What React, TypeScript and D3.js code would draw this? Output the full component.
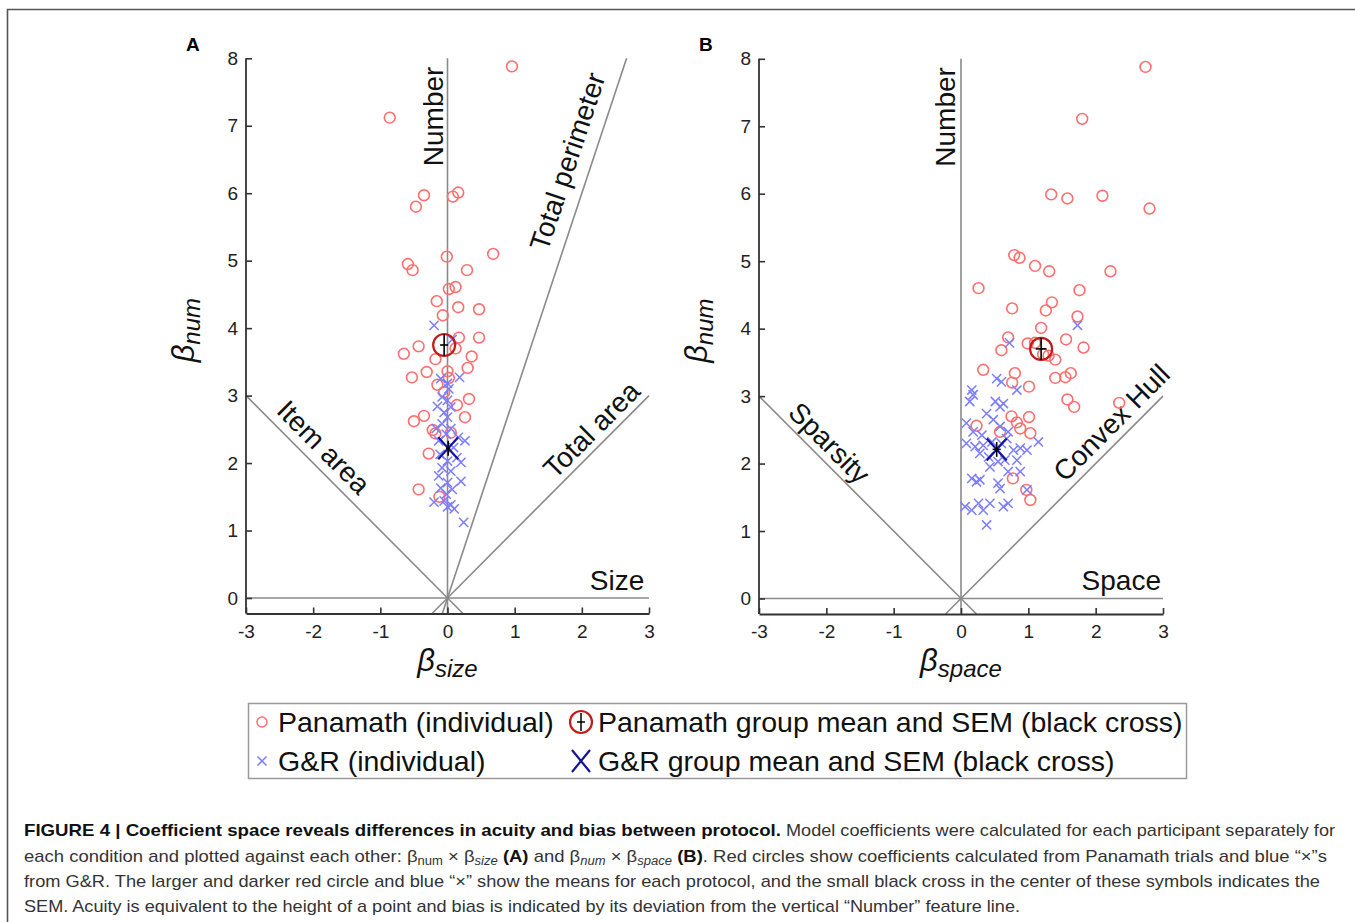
import React, { useEffect, useRef } from 'react';
import * as d3 from 'd3';

// ---------- DATA ----------
const xTicks = [-3, -2, -1, 0, 1, 2, 3];
const yTicks = [0, 1, 2, 3, 4, 5, 6, 7, 8];

// Panel A: beta_size (x) vs beta_num (y)
const panamathA: [number, number][] = [
  [0.96, 7.88], [-0.86, 7.12], [-0.35, 5.97], [-0.47, 5.8], [0.08, 5.95], [0.16, 6.01],
  [-0.01, 5.06], [0.68, 5.1], [-0.59, 4.95], [-0.52, 4.86], [0.29, 4.86], [0.02, 4.58],
  [0.12, 4.61], [-0.16, 4.4], [0.16, 4.31], [0.47, 4.28], [-0.07, 4.19], [-0.43, 3.73],
  [-0.65, 3.62], [0.17, 3.86], [0.47, 3.86], [0.12, 3.7], [-0.18, 3.54], [0.36, 3.58],
  [-0.53, 3.27], [-0.31, 3.35], [0.0, 3.36], [0.3, 3.41], [-0.15, 3.16], [0.02, 3.26],
  [0.32, 2.95], [0.14, 2.86], [0.26, 2.68], [-0.5, 2.62], [-0.35, 2.7], [-0.22, 2.49],
  [-0.18, 2.44], [-0.28, 2.14], [-0.43, 1.61], [-0.12, 1.5], [-0.05, 3.05], [0.05, 2.45],
];
const grA: [number, number][] = [
  [-0.2, 4.04], [0.07, 3.83], [-0.1, 3.25], [0.18, 3.27], [0.0, 3.18], [0.02, 3.1],
  [-0.08, 2.98], [0.0, 2.93], [-0.15, 2.84], [0.05, 2.83], [-0.05, 2.75], [0.0, 2.68],
  [-0.08, 2.58], [-0.17, 2.51], [0.05, 2.51], [-0.02, 2.43], [0.16, 2.38], [0.26, 2.33],
  [-0.13, 2.33], [0.09, 2.23], [-0.11, 2.13], [0.14, 2.08], [0.0, 2.03], [0.2, 2.01],
  [-0.08, 1.93], [0.05, 1.88], [-0.13, 1.81], [0.2, 1.73], [0.0, 1.71], [-0.1, 1.63],
  [0.07, 1.61], [-0.02, 1.54], [-0.2, 1.42], [-0.05, 1.44], [0.05, 1.38], [0.1, 1.32],
  [0.0, 1.35], [0.24, 1.12],
];
const meanPanamathA = [-0.05, 3.75];
const semPanamathA = [0.06, 0.16];
const meanGrA = [0.01, 2.22];
const semGrA = [0.03, 0.11];

// Panel B: beta_space (x) vs beta_num (y)
const panamathB: [number, number][] = [
  [2.74, 7.88], [1.8, 7.11], [1.34, 5.99], [1.58, 5.93], [2.1, 5.97], [2.8, 5.78],
  [0.79, 5.09], [0.87, 5.05], [1.1, 4.93], [1.31, 4.85], [2.22, 4.85], [0.26, 4.6],
  [1.76, 4.57], [1.35, 4.39], [0.76, 4.3], [1.26, 4.27], [1.73, 4.18], [1.19, 4.01],
  [0.7, 3.87], [0.6, 3.68], [0.99, 3.78], [1.1, 3.79], [1.56, 3.84], [1.82, 3.72],
  [1.4, 3.54], [0.33, 3.39], [0.8, 3.34], [1.4, 3.27], [1.55, 3.28], [1.63, 3.34],
  [0.76, 3.2], [1.01, 3.14], [1.58, 2.95], [1.68, 2.84], [2.35, 2.9], [0.75, 2.7],
  [1.01, 2.69], [0.83, 2.61], [0.88, 2.52], [1.03, 2.45], [0.23, 2.56], [0.58, 2.47],
  [0.77, 1.78], [0.97, 1.61], [1.03, 1.46], [1.22, 3.62], [1.3, 3.6],
];
const grB: [number, number][] = [
  [1.73, 4.05], [0.72, 3.79], [0.16, 3.09], [0.18, 3.02], [0.13, 2.92], [0.53, 3.26],
  [0.6, 3.21], [0.83, 3.09], [0.51, 2.92], [0.58, 2.84], [0.63, 2.89], [0.38, 2.74],
  [0.48, 2.65], [0.08, 2.6], [0.18, 2.47], [0.31, 2.42], [0.58, 2.55], [0.7, 2.47],
  [0.08, 2.3], [0.21, 2.25], [0.33, 2.27], [0.46, 2.32], [0.6, 2.3], [0.68, 2.37],
  [0.78, 2.2], [0.88, 2.23], [0.98, 2.2], [1.15, 2.32], [0.28, 2.15], [0.41, 2.1],
  [0.55, 2.03], [0.65, 2.05], [0.83, 2.05], [0.43, 1.95], [0.7, 1.88], [0.88, 1.88],
  [0.16, 1.78], [0.23, 1.73], [0.28, 1.76], [0.55, 1.71], [0.58, 1.63], [0.98, 1.61],
  [0.06, 1.36], [0.16, 1.31], [0.26, 1.41], [0.43, 1.41], [0.33, 1.31], [0.63, 1.36],
  [0.7, 1.41], [0.38, 1.09],
];
const meanPanamathB = [1.19, 3.7];
const semPanamathB = [0.08, 0.16];
const meanGrB = [0.53, 2.21];
const semGrB = [0.06, 0.11];

// Feature directions (in coefficient space)
const featuresA = [
  { name: 'Number', dx: 0, dy: 1 },
  { name: 'Size', dx: 1, dy: 0 },
  { name: 'Total perimeter', dx: 1, dy: 3 },
  { name: 'Total area', dx: 1, dy: 1 },
  { name: 'Item area', dx: -1, dy: 1 },
];
const featuresB = [
  { name: 'Number', dx: 0, dy: 1 },
  { name: 'Space', dx: 1, dy: 0 },
  { name: 'Convex Hull', dx: 1, dy: 1 },
  { name: 'Sparsity', dx: -1, dy: 1 },
];

const legendLabels = [
  'Panamath (individual)',
  'Panamath group mean and SEM (black cross)',
  'G&R (individual)',
  'G&R group mean and SEM (black cross)',
];

// ---------- STYLE ----------
const FONT = 'Liberation Sans, Arial, Helvetica, sans-serif';
const RED = '#ff6f6f';
const BLUE = '#7d7dff';
const DARKRED = '#c41a1a';
const DARKBLUE = '#14149a';
const LINEGRAY = '#8a8a8a';
const AXIS = '#333';

type LabelPlace = { t: number; off: number; anchor: string };

function drawPanel(
  root: d3.Selection<SVGGElement, unknown, null, undefined>,
  cfg: {
    xRange: [number, number];
    yRange: [number, number];
    panamath: [number, number][];
    gr: [number, number][];
    meanP: number[];
    semP: number[];
    meanG: number[];
    semG: number[];
    features: { name: string; dx: number; dy: number }[];
    places: Record<string, LabelPlace>;
    xSub: string;
    letter: string;
  }
) {
  const xd: [number, number] = [-3, 3];
  const yd: [number, number] = [-0.23, 8];
  const x = d3.scaleLinear().domain(xd).range(cfg.xRange);
  const y = d3.scaleLinear().domain(yd).range(cfg.yRange);
  const g = root.append('g');

  // feature lines
  cfg.features.forEach((f) => {
    let t0 = -Infinity;
    let t1 = Infinity;
    if (f.dx !== 0) {
      const a = xd[0] / f.dx, b = xd[1] / f.dx;
      t0 = Math.max(t0, Math.min(a, b));
      t1 = Math.min(t1, Math.max(a, b));
    }
    if (f.dy !== 0) {
      const a = yd[0] / f.dy, b = yd[1] / f.dy;
      t0 = Math.max(t0, Math.min(a, b));
      t1 = Math.min(t1, Math.max(a, b));
    }
    g.append('line')
      .attr('x1', x(t0 * f.dx)).attr('y1', y(t0 * f.dy))
      .attr('x2', x(t1 * f.dx)).attr('y2', y(t1 * f.dy))
      .attr('stroke', LINEGRAY).attr('stroke-width', 1.6);

    const p = cfg.places[f.name];
    if (!p) return;
    const px = x(p.t * f.dx);
    const py = y(p.t * f.dy);
    let ang = (Math.atan2(y(f.dy) - y(0), x(f.dx) - x(0)) * 180) / Math.PI;
    if (ang < -90) ang += 180;
    if (ang > 90) ang -= 180;
    g.append('text')
      .attr('transform', `translate(${px},${py}) rotate(${ang})`)
      .attr('y', p.off)
      .attr('text-anchor', p.anchor)
      .attr('font-family', FONT)
      .attr('font-size', 28)
      .attr('fill', '#111')
      .text(f.name);
  });

  // axes
  const fmt = (d: d3.NumberValue) => String(d);
  const ax = g.append('g')
    .attr('transform', `translate(0,${cfg.yRange[0]})`)
    .call(d3.axisBottom(x).tickValues(xTicks).tickSizeInner(-6).tickSizeOuter(0).tickPadding(11).tickFormat(fmt));
  const ay = g.append('g')
    .attr('transform', `translate(${cfg.xRange[0]},0)`)
    .call(d3.axisLeft(y).tickValues(yTicks).tickSizeInner(-6).tickSizeOuter(0).tickPadding(8).tickFormat(fmt));
  [ax, ay].forEach((a) => {
    a.select('.domain').attr('stroke', AXIS).attr('stroke-width', 1.8);
    a.selectAll('.tick line').attr('stroke', AXIS).attr('stroke-width', 1.6);
    a.selectAll('.tick text').attr('font-family', FONT).attr('font-size', 19).attr('fill', '#222');
  });
  ay.select('.domain').attr('d', `M0,${y(8)}V${cfg.yRange[0]}`);

  // individual points
  g.append('g').selectAll('circle').data(cfg.panamath).join('circle')
    .attr('cx', (d) => x(d[0])).attr('cy', (d) => y(d[1])).attr('r', 5.4)
    .attr('fill', 'none').attr('stroke', RED).attr('stroke-width', 1.6);
  g.append('g').selectAll('path').data(cfg.gr).join('path')
    .attr('transform', (d) => `translate(${x(d[0])},${y(d[1])})`)
    .attr('d', 'M-4.6,-4.6L4.6,4.6M-4.6,4.6L4.6,-4.6')
    .attr('fill', 'none').attr('stroke', BLUE).attr('stroke-width', 1.5);

  // means
  const semCross = (m: number[], s: number[]) => {
    g.append('line').attr('x1', x(m[0])).attr('x2', x(m[0]))
      .attr('y1', y(m[1] - s[1])).attr('y2', y(m[1] + s[1]))
      .attr('stroke', '#000').attr('stroke-width', 1.6);
    g.append('line').attr('x1', x(m[0] - s[0])).attr('x2', x(m[0] + s[0]))
      .attr('y1', y(m[1])).attr('y2', y(m[1]))
      .attr('stroke', '#000').attr('stroke-width', 1.6);
  };
  g.append('circle').attr('cx', x(cfg.meanP[0])).attr('cy', y(cfg.meanP[1])).attr('r', 11)
    .attr('fill', 'none').attr('stroke', DARKRED).attr('stroke-width', 2.2);
  semCross(cfg.meanP, cfg.semP);
  g.append('path')
    .attr('transform', `translate(${x(cfg.meanG[0])},${y(cfg.meanG[1])})`)
    .attr('d', 'M-10,-11L10,11M-10,11L10,-11')
    .attr('fill', 'none').attr('stroke', DARKBLUE).attr('stroke-width', 2.2);
  semCross(cfg.meanG, cfg.semG);

  // axis labels
  const cx = (cfg.xRange[0] + cfg.xRange[1]) / 2;
  const xl = g.append('text').attr('x', cx).attr('y', 671).attr('text-anchor', 'middle')
    .attr('font-family', FONT).attr('font-style', 'italic').attr('fill', '#111');
  xl.append('tspan').attr('font-size', 31).text('β');
  xl.append('tspan').attr('font-size', 24).attr('dy', 6).text(cfg.xSub);

  const yl = g.append('text')
    .attr('transform', `translate(${cfg.xRange[0] - 52},${y(3.97)}) rotate(-90)`)
    .attr('text-anchor', 'middle')
    .attr('font-family', FONT).attr('font-style', 'italic').attr('fill', '#111');
  yl.append('tspan').attr('font-size', 31).text('β');
  yl.append('tspan').attr('font-size', 24).attr('dy', 6).text('num');

  g.append('text').attr('x', cfg.xRange[0] - 60).attr('y', 51)
    .attr('font-family', FONT).attr('font-weight', 'bold').attr('font-size', 19).attr('fill', '#000')
    .text(cfg.letter);
}

export default function App() {
  const ref = useRef<SVGSVGElement>(null);
  useEffect(() => {
    const svg = d3.select(ref.current as SVGSVGElement);
    svg.selectAll('*').remove();
    const root = svg.append('g') as d3.Selection<SVGGElement, unknown, null, undefined>;

    // outer frame (top + left)
    root.append('path').attr('d', 'M7.5,922V9.5H1355').attr('fill', 'none')
      .attr('stroke', '#555').attr('stroke-width', 1.6);

    drawPanel(root, {
      xRange: [246, 649], yRange: [613.5, 58.3],
      panamath: panamathA, gr: grA,
      meanP: meanPanamathA, semP: semPanamathA, meanG: meanGrA, semG: semGrA,
      features: featuresA,
      places: {
        Number: { t: 6.4, off: -5, anchor: 'start' },
        Size: { t: 2.93, off: -8, anchor: 'end' },
        'Total perimeter': { t: 2.12, off: -14, anchor: 'middle' },
        'Total area': { t: 2.32, off: -7, anchor: 'middle' },
        'Item area': { t: 2.04, off: -9, anchor: 'middle' },
      },
      xSub: 'size', letter: 'A',
    });
    drawPanel(root, {
      xRange: [759, 1163], yRange: [614, 58.8],
      panamath: panamathB, gr: grB,
      meanP: meanPanamathB, semP: semPanamathB, meanG: meanGrB, semG: semGrB,
      features: featuresB,
      places: {
        Number: { t: 6.4, off: -6, anchor: 'start' },
        Space: { t: 2.97, off: -8, anchor: 'end' },
        'Convex Hull': { t: 2.42, off: -8, anchor: 'middle' },
        Sparsity: { t: 2.13, off: -7, anchor: 'middle' },
      },
      xSub: 'space', letter: 'B',
    });

    // legend
    const lg = root.append('g');
    lg.append('rect').attr('x', 248.5).attr('y', 703.5).attr('width', 938).attr('height', 75)
      .attr('fill', '#fff').attr('stroke', '#999').attr('stroke-width', 1.5);
    const rows = [722, 761];
    const cols = [262, 581];
    const textX = [278, 598];
    legendLabels.forEach((lab, i) => {
      const r = Math.floor(i / 2), c = i % 2;
      lg.append('text').attr('x', textX[c]).attr('y', rows[r] + 10)
        .attr('font-family', FONT).attr('font-size', 28.5).attr('fill', '#111').text(lab);
    });
    lg.append('circle').attr('cx', cols[0]).attr('cy', rows[0]).attr('r', 5)
      .attr('fill', 'none').attr('stroke', RED).attr('stroke-width', 1.5);
    lg.append('circle').attr('cx', cols[1]).attr('cy', rows[0]).attr('r', 11)
      .attr('fill', 'none').attr('stroke', DARKRED).attr('stroke-width', 2.2);
    lg.append('path').attr('d', `M${cols[1]},${rows[0] - 9}V${rows[0] + 9}M${cols[1] - 4},${rows[0]}H${cols[1] + 4}`)
      .attr('stroke', '#000').attr('stroke-width', 1.5);
    lg.append('path').attr('transform', `translate(${cols[0]},${rows[1]})`)
      .attr('d', 'M-4.5,-4.5L4.5,4.5M-4.5,4.5L4.5,-4.5').attr('stroke', BLUE).attr('stroke-width', 1.5);
    lg.append('path').attr('transform', `translate(${cols[1]},${rows[1]})`)
      .attr('d', 'M-9,-11L9,11M-9,11L9,-11').attr('stroke', DARKBLUE).attr('stroke-width', 2.2);

    // caption
    const CF = 'Liberation Sans Narrow, Arial Narrow, Liberation Sans, Arial, sans-serif';
    const cap = root.append('g').attr('font-family', CF).attr('font-size', 17).attr('fill', '#333');
    cap.append('text').attr('x', 24).attr('y', 836).attr('font-weight', 'bold').attr('fill', '#111')
      .attr('textLength', 757).attr('lengthAdjust', 'spacingAndGlyphs')
      .text('FIGURE 4 | Coefficient space reveals differences in acuity and bias between protocol.');
    cap.append('text').attr('x', 786).attr('y', 836)
      .attr('textLength', 549).attr('lengthAdjust', 'spacingAndGlyphs')
      .text('Model coefficients were calculated for each participant separately for');

    const l2 = cap.append('text').attr('x', 24).attr('y', 862)
      .attr('textLength', 1303).attr('lengthAdjust', 'spacingAndGlyphs');
    l2.append('tspan').text('each condition and plotted against each other: β');
    l2.append('tspan').attr('font-size', 12).attr('dy', 3).text('num');
    l2.append('tspan').attr('dy', -3).text(' × β');
    l2.append('tspan').attr('font-size', 12).attr('dy', 3).attr('font-style', 'italic').text('size');
    l2.append('tspan').attr('dy', -3).attr('font-weight', 'bold').attr('fill', '#111').text(' (A)');
    l2.append('tspan').text(' and β');
    l2.append('tspan').attr('font-size', 12).attr('dy', 3).attr('font-style', 'italic').text('num');
    l2.append('tspan').attr('dy', -3).text(' × β');
    l2.append('tspan').attr('font-size', 12).attr('dy', 3).attr('font-style', 'italic').text('space');
    l2.append('tspan').attr('dy', -3).attr('font-weight', 'bold').attr('fill', '#111').text(' (B)');
    l2.append('tspan').text('. Red circles show coefficients calculated from Panamath trials and blue “×”s');

    cap.append('text').attr('x', 24).attr('y', 887)
      .attr('textLength', 1296).attr('lengthAdjust', 'spacingAndGlyphs')
      .text('from G&R. The larger and darker red circle and blue “×” show the means for each protocol, and the small black cross in the center of these symbols indicates the');
    cap.append('text').attr('x', 24).attr('y', 912)
      .attr('textLength', 996).attr('lengthAdjust', 'spacingAndGlyphs')
      .text('SEM. Acuity is equivalent to the height of a point and bias is indicated by its deviation from the vertical “Number” feature line.');
  }, []);

  return (
    <svg
      ref={ref}
      width={1355}
      height={922}
      style={{ position: 'absolute', left: 0, top: 0, background: '#fff' }}
    />
  );
}
